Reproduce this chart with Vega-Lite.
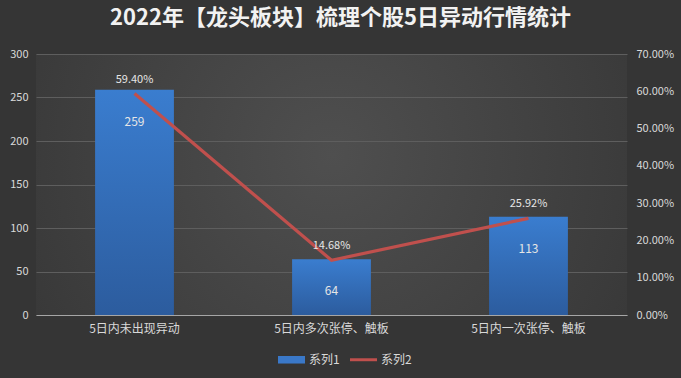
{
  "$schema": "https://vega.github.io/schema/vega-lite/v6.json",
  "autosize": "none",
  "width": 591,
  "height": 261,
  "padding": {"left": 36, "top": 54, "right": 54, "bottom": 63},
  "background": "#353535",
  "title": {
    "text": "2022年【龙头板块】梳理个股5日异动行情统计",
    "fontSize": 22,
    "fontWeight": "bold",
    "font": "Noto Sans CJK SC",
    "color": "#f2f2f2",
    "anchor": "middle",
    "dx": 9,
    "offset": 18
  },
  "data": {
    "values": [
      {"cat": "5日内未出现异动", "count": 259, "pct": 0.594},
      {"cat": "5日内多次张停、触板", "count": 64, "pct": 0.1468},
      {"cat": "5日内一次张停、触板", "count": 113, "pct": 0.2592}
    ]
  },
  "encoding": {
    "x": {
      "field": "cat",
      "type": "nominal",
      "sort": null,
      "scale": {"paddingInner": 0.6, "paddingOuter": 0.3},
      "axis": {
        "title": null,
        "labelAngle": 0,
        "labelFontSize": 12,
        "labelFont": "Noto Sans CJK SC",
        "labelColor": "#d9d9d9",
        "labelPadding": 8,
        "ticks": false,
        "domainColor": "#a6a6a6",
        "domainWidth": 1.2
      }
    }
  },
  "layer": [
    {
      "encoding": {
        "y": {
          "field": "count",
          "type": "quantitative",
          "scale": {"domain": [0, 300], "nice": false},
          "axis": {
            "title": null,
            "orient": "left",
            "values": [0, 50, 100, 150, 200, 250, 300],
            "labelOverlap": false,
            "labelFontSize": 11,
            "labelFont": "Noto Sans CJK SC",
            "labelColor": "#d9d9d9",
            "labelPadding": 8,
            "ticks": false,
            "domain": false,
            "grid": true,
            "gridColor": "#5e5e5e",
            "gridWidth": 1
          }
        }
      },
      "layer": [
        {
          "mark": {
            "type": "bar",
            "fill": {
              "gradient": "linear",
              "x1": 0, "y1": 0, "x2": 0, "y2": 1,
              "stops": [
                {"offset": 0, "color": "#3a7dcf"},
                {"offset": 1, "color": "#2c5c9e"}
              ]
            }
          }
        },
        {
          "mark": {
            "type": "text",
            "dy": 32,
            "baseline": "middle",
            "fontSize": 12,
            "font": "Noto Sans CJK SC",
            "color": "#e6e6e6"
          },
          "encoding": {
            "text": {"field": "count", "type": "quantitative"}
          }
        }
      ]
    },
    {
      "encoding": {
        "y": {
          "field": "pct",
          "type": "quantitative",
          "scale": {"domain": [0, 0.7], "nice": false},
          "axis": {
            "title": null,
            "orient": "right",
            "values": [0, 0.1, 0.2, 0.3, 0.4, 0.5, 0.6, 0.7],
            "labelOverlap": false,
            "format": ".2%",
            "labelFontSize": 11,
            "labelFont": "Noto Sans CJK SC",
            "labelColor": "#d9d9d9",
            "labelPadding": 9,
            "ticks": false,
            "domain": false,
            "grid": false
          }
        }
      },
      "layer": [
        {
          "mark": {"type": "line", "strokeWidth": 3.2, "strokeJoin": "miter"},
          "encoding": {
            "color": {
              "datum": "系列2",
              "scale": {"domain": ["系列1", "系列2"], "range": ["#3a78c8", "#c0504d"]},
              "legend": {
                "title": null,
                "orient": "none",
                "direction": "horizontal",
                "legendX": 242,
                "legendY": 292,
                "labelFontSize": 12,
                "labelFont": "Noto Sans CJK SC",
                "labelColor": "#d9d9d9",
                "symbolSize": 729,
                "columnSpacing": 3,
                "labelOffset": 4,
                "padding": 0,
                "encode": {
                  "symbols": {
                    "update": {
                      "shape": {"signal": "datum.value === '系列1' ? 'M-1,-0.28H1V0.28H-1Z' : 'M-1,-0.11H1V0.11H-1Z'"},
                      "fill": {"scale": "color", "field": "value"},
                      "fillOpacity": {"value": 1},
                      "opacity": {"value": 1},
                      "stroke": {"value": "transparent"},
                      "strokeWidth": {"value": 0},
                      "size": {"value": 729}
                    }
                  }
                }
              }
            }
          }
        },
        {
          "mark": {
            "type": "text",
            "dy": -14,
            "baseline": "middle",
            "fontSize": 11,
            "font": "Noto Sans CJK SC",
            "color": "#e6e6e6"
          },
          "encoding": {
            "text": {"field": "pct", "type": "quantitative", "format": ".2%"}
          }
        }
      ]
    }
  ],
  "resolve": {"scale": {"y": "independent"}},
  "config": {
    "view": {
      "stroke": null,
      "fill": {
        "gradient": "radial",
        "x1": 0.5, "y1": 0.45, "r1": 0,
        "x2": 0.5, "y2": 0.45, "r2": 0.72,
        "stops": [
          {"offset": 0, "color": "#4f4f4f"},
          {"offset": 1, "color": "#333333"}
        ]
      }
    }
  }
}
